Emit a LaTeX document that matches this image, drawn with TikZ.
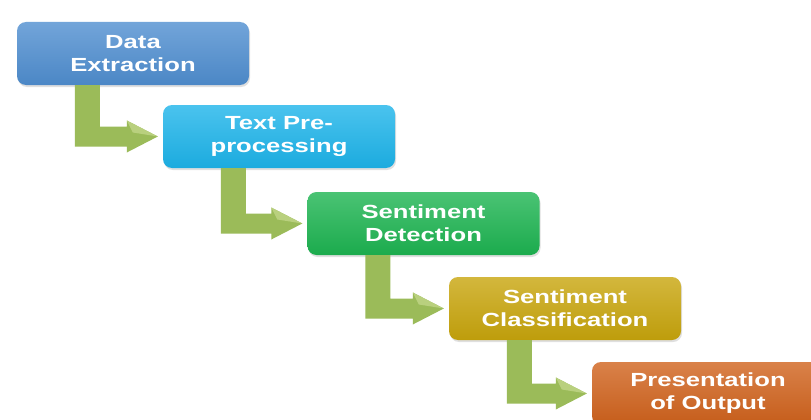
\documentclass[tikz,border=0pt]{standalone}
\usepackage{fontspec}
\newfontfamily\boxfont[FakeStretch=1.35]{Liberation Sans}
\usepackage{tikz}
\usetikzlibrary{shadows}
\definecolor{extractblue}{HTML}{4F8ED0}
\definecolor{preprocyan}{HTML}{1DB4EA}
\definecolor{detectgreen}{HTML}{1DB451}
\definecolor{classgold}{HTML}{C8A50C}
\definecolor{outputorange}{HTML}{D0621C}
\definecolor{arrowgreen}{HTML}{9BBB59}
\definecolor{arrowlight}{HTML}{B9D07E}
\tikzset{
  stage/.style={rounded corners=9pt, minimum width=232pt, minimum height=63pt,
    align=center, text=white, font=\boxfont\bfseries\fontsize{19}{23}\selectfont,
    top color=#1!80!white, bottom color=#1!95!black,
    drop shadow={opacity=0.25, shadow xshift=1pt, shadow yshift=-2pt}},
  bendfill/.style={fill=arrowgreen}
}
% bent block arrow from the bottom of #1 to the left side of #2
\newcommand\bendarrow[2]{%
  \fill[bendfill] ([xshift=58pt]#1.south west) -- ([xshift=83pt]#1.south west)
    |- ([xshift=-36pt,yshift=10pt]#2.west) -- ([xshift=-36pt,yshift=16pt]#2.west)
    -- ([xshift=-5pt]#2.west) -- ([xshift=-36pt,yshift=-16pt]#2.west)
    -- ([xshift=-36pt,yshift=-10pt]#2.west) -| cycle;
  \fill[arrowlight] ([xshift=-36pt,yshift=16pt]#2.west) -- ([xshift=-5pt]#2.west)
    -- ([xshift=-30pt,yshift=4pt]#2.west) -- cycle;
}

\begin{document}
\begin{tikzpicture}[x=1pt,y=-1pt]
\clip (0,0) rectangle (811,420);
\fill[white] (0,0) rectangle (811,420);

% Draw stages
\node[stage=extractblue] (extract) at (133,53.5) {Data\\Extraction};
\node[stage=preprocyan] (prepro) at (279,136.5) {Text Pre-\\processing};
\node[stage=detectgreen] (detect) at (423.5,223.5) {Sentiment\\Detection};
\node[stage=classgold] (classify) at (565,308.5) {Sentiment\\Classification};
\node[stage=outputorange] (present) at (708,393.5) {Presentation\\of Output};

% Draw bent arrows
\bendarrow{extract}{prepro}
\bendarrow{prepro}{detect}
\bendarrow{detect}{classify}
\bendarrow{classify}{present}

\end{tikzpicture}
\end{document}
